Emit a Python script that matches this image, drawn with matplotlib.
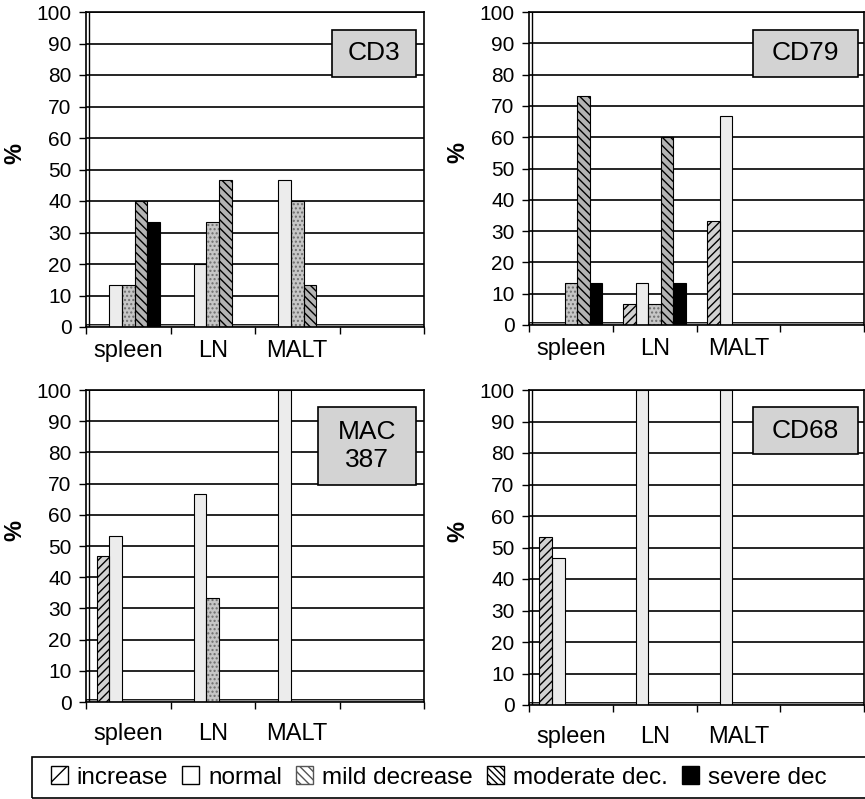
import matplotlib.pyplot as plt
import numpy as np
from matplotlib.patches import Patch, Rectangle

plt.rcParams['font.family'] = ['Liberation Sans', 'DejaVu Sans']
plt.rcParams['hatch.linewidth'] = 1.0

W, H = 865, 799

categories = ['spleen', 'LN', 'MALT', '']
series = ['increase', 'normal', 'mild decrease', 'moderate dec.', 'severe dec']

# rows: increase, normal, mild decrease, moderate dec., severe dec
# columns: spleen, LN, MALT
cd3 = [[0, 0, 0], [13.3, 20.0, 46.7], [13.3, 33.3, 40.0], [40.0, 46.7, 13.3], [33.3, 0, 0]]
cd79 = [[0, 6.7, 33.3], [0, 13.3, 66.7], [13.3, 6.7, 0], [73.3, 60.0, 0], [13.3, 13.3, 0]]
mac387 = [[46.7, 0, 0], [53.3, 66.7, 100.0], [0, 33.3, 0], [0, 0, 0], [0, 0, 0]]
cd68 = [[53.3, 0, 0], [46.7, 100.0, 100.0], [0, 0, 0], [0, 0, 0], [0, 0, 0]]

panels = [('CD3', cd3), ('CD79', cd79), ('MAC\n387', mac387), ('CD68', cd68)]

bar_face = ['#d2d2d2', '#ececec', '#c6c6c6', '#b4b4b4', 'black']
bar_hatch = ['////', None, '....', '\\\\\\\\', None]
hatch_col = ['black', '#ececec', '#6e6e6e', 'black', 'black']

# pixel boxes: left, right, top, bottom
ax_px = [(86, 424, 12, 327), (529, 864, 12, 325), (86, 424, 390, 702), (529, 864, 390, 705)]
lab_px = [(332, 416, 30, 77), (753, 858, 30, 77), (318, 416, 407, 485), (753, 858, 407, 454)]
xpad = [9.5, 9.5, 15, 15]

fig = plt.figure(figsize=(W / 100, H / 100), dpi=100)

bw = 0.15
for i, (name, data) in enumerate(panels):
    l, r, t, b = ax_px[i]
    ax = fig.add_axes([l / W, 1 - b / H, (r - l) / W, (b - t) / H])
    ax.set_xlim(0, 4)
    ax.set_ylim(0, 100)

    ax.axhspan(0, 0.9, facecolor='#8c8c8c', edgecolor='black', lw=0.6, zorder=1.5)
    ax.axvline(0.04, color='black', lw=1.0, zorder=1.5)

    x = np.arange(3) + 0.5
    for k in range(5):
        pos = x + (k - 2) * bw
        vals = data[k]
        ax.bar(pos, vals, bw, color=bar_face[k], hatch=bar_hatch[k],
               edgecolor=hatch_col[k], linewidth=0, zorder=2)
        ax.bar(pos, vals, bw, fill=False, edgecolor='black', linewidth=0.8, zorder=3)

    ax.set_yticks(np.arange(0, 101, 10))
    ax.yaxis.grid(True, color='black', lw=1.2)
    ax.set_axisbelow(True)
    ax.tick_params(axis='y', labelsize=15, length=5, width=1, pad=5.5)

    ax.set_xticks(np.arange(5))
    ax.set_xticklabels([])
    ax.set_xticks(np.arange(4) + 0.5, minor=True)
    ax.set_xticklabels(categories, minor=True)
    ax.tick_params(axis='x', which='major', length=5, width=1)
    ax.tick_params(axis='x', which='minor', length=0, labelsize=17, pad=xpad[i])

    for s in ax.spines.values():
        s.set_linewidth(1.2)

    ax.set_ylabel('%', fontsize=17, fontweight='bold')
    ax.yaxis.set_label_coords(-60 / (r - l), 0.55)

    x0, x1, y0, y1 = lab_px[i]
    fig.patches.append(Rectangle((x0 / W, 1 - y1 / H), (x1 - x0) / W, (y1 - y0) / H,
                                 transform=fig.transFigure, facecolor='#d3d3d3',
                                 edgecolor='black', lw=1.2, zorder=5))
    fig.text((x0 + x1) / 2 / W, 1 - (y0 + y1) / 2 / H, name, ha='center', va='center',
             fontsize=19, linespacing=1.25, zorder=6)

# legend frame (runs off the right edge like the reference)
fig.patches.append(Rectangle((32 / W, 1 - 798 / H), 860 / W, 41 / H,
                             transform=fig.transFigure, fill=False,
                             edgecolor='black', lw=1.2, zorder=5))

leg_face = ['white', 'white', 'white', 'white', 'black']
leg_hatch = ['/', None, '\\\\\\\\', '\\\\\\\\\\', None]
leg_col = ['black', 'black', '#555555', 'black', 'black']
handles = [Patch(facecolor=leg_face[k], edgecolor=leg_col[k], hatch=leg_hatch[k], lw=1)
           for k in range(5)]
fig.legend(handles, series, loc='center left', bbox_to_anchor=(46 / W, 1 - 777.5 / H),
           ncol=5, fontsize=17.5, frameon=False,
           handlelength=0.7, handleheight=0.7, handletextpad=0.35,
           columnspacing=0.6, borderpad=0.2, borderaxespad=0)

fig.savefig('out.png', dpi=100)
